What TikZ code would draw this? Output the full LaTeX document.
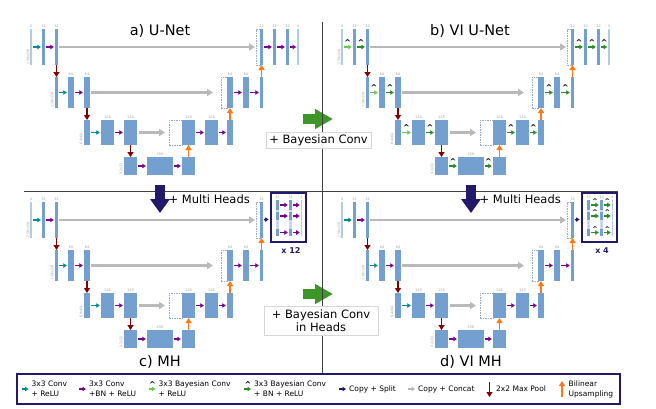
\documentclass[tikz,border=0pt]{standalone}
\usepackage{fontspec}
\setmainfont{DejaVu Sans}
\usetikzlibrary{arrows.meta}

\definecolor{blockblue}{RGB}{116,160,208}
\definecolor{convteal}{RGB}{0,140,140}
\definecolor{convpurple}{RGB}{125,0,145}
\definecolor{bayeslight}{RGB}{110,200,80}
\definecolor{bayesdark}{RGB}{45,140,40}
\definecolor{splitnavy}{RGB}{35,25,105}
\definecolor{skipgrey}{RGB}{185,185,185}
\definecolor{poolred}{RGB}{130,0,0}
\definecolor{uporange}{RGB}{255,120,20}
\definecolor{bayesarrow}{RGB}{60,150,40}
\definecolor{catgrey}{RGB}{150,170,205}
\definecolor{dimgrey}{RGB}{165,165,165}
\definecolor{boxgrey}{RGB}{215,215,215}

\begin{document}
\begin{tikzpicture}[x=1pt, y=-1pt]
    \tikzset{blk/.style = {fill=blockblue, inner sep=0, outer sep=0}}
    \tikzset{thinblk/.style = {fill=blockblue!55, inner sep=0, outer sep=0, minimum width=1.2}}
    \tikzset{strip/.style = {fill=blockblue!35, inner sep=0, outer sep=0, minimum width=3, minimum height=36}}
    \tikzset{catbox/.style = {draw=catgrey, dash pattern=on 1.5pt off 1pt, line width=0.6pt, inner sep=0, outer sep=0}}
    \tikzset{r1/.style = {minimum height=36}}
    \tikzset{r2/.style = {minimum height=31}}
    \tikzset{r3/.style = {minimum height=25}}
    \tikzset{r4/.style = {minimum height=18}}
    \tikzset{dims/.style = {text=dimgrey, font=\fontsize{3.5}{4}\selectfont, inner sep=0.6pt}}
    \tikzset{dimtop/.style = {label={[dims, label distance=0.6pt]above:#1}}}
    \tikzset{dimside/.style = {dims, rotate=90, anchor=west}}
    \tikzset{small/.style = {line width=1.3pt, -{Triangle[length=3.5pt,width=4.5pt]}, shorten <=1.2pt, shorten >=1.2pt}}
    \tikzset{conv/.style = {small, draw=convteal}}
    \tikzset{convbn/.style = {small, draw=convpurple}}
    \tikzset{bconv/.style = {small, draw=bayeslight}}
    \tikzset{bconvbn/.style = {small, draw=bayesdark}}
    \tikzset{hat/.style = {midway, yshift=4.5pt, inner sep=0, font=\bfseries\fontsize{8}{8}\selectfont}}
    \tikzset{skip/.style = {line width=2.8pt, draw=skipgrey, -{Triangle[length=6pt,width=7pt]}}}
    \tikzset{pool/.style = {line width=1.8pt, draw=poolred, -{Triangle[length=5pt,width=6pt]}}}
    \tikzset{upsample/.style = {line width=1.8pt, draw=uporange, -{Triangle[length=5pt,width=6pt]}}}
    \tikzset{split/.style = {line width=1.3pt, draw=splitnavy, -{Triangle[length=3.5pt,width=4.5pt]}, shorten <=1.2pt, shorten >=1.5pt}}
    \tikzset{headbox/.style = {draw=splitnavy, line width=1.8pt, inner sep=0, minimum width=35, minimum height=49}}
    \tikzset{dotcol/.style = {draw=blockblue!60, line width=0.6pt, dash pattern=on 0.6pt off 0.9pt}}
    \tikzset{countlabel/.style = {text=splitnavy, inner sep=0, font=\bfseries\fontsize{8}{8}\selectfont}}
    \tikzset{title/.style = {anchor=base, inner sep=0, font=\fontsize{14.5}{15}\selectfont}}
    \tikzset{sidetext/.style = {anchor=west, inner sep=0, font=\fontsize{11.5}{12}\selectfont}}
    \tikzset{notebox/.style = {draw=boxgrey, fill=white, line width=0.6pt, inner sep=1pt, align=center, font=\fontsize{11.5}{13}\selectfont}}
    \tikzset{divider/.style = {draw=black!75, line width=0.8pt}}
    \tikzset{bigsplit/.style = {line width=10pt, draw=splitnavy, -{Triangle[length=14pt,width=19pt]}}}
    \tikzset{bigbayes/.style = {line width=10pt, draw=bayesarrow, -{Triangle[length=18pt,width=19pt]}}}
    \tikzset{legendbox/.style = {draw=splitnavy, line width=2pt, inner sep=0, minimum width=603, minimum height=30}}
    \tikzset{legtext/.style = {anchor=west, inner sep=0, align=left, font=\fontsize{7.5}{10}\selectfont}}
    \tikzset{legarrow/.style = {shorten <=0pt, shorten >=3pt}}

    \newcommand{\unet}[6]{%
        \begin{scope}[shift={(#2,#3)}]
        % encoder
        \node[thinblk, r1, dimtop=4] (#1in) at (31,47) {};
        \node[blk, r1, minimum width=3, dimtop=32] (#1e1a) at (43.5,47) {};
        \node[blk, r1, minimum width=3, dimtop=32] (#1e1b) at (56.5,47) {};
        \node[blk, r2, minimum width=3] (#1e2a) at (56.5,92.5) {};
        \node[blk, r2, minimum width=6, dimtop=64] (#1e2b) at (71,92.5) {};
        \node[blk, r2, minimum width=6, dimtop=64] (#1e2c) at (87,92.5) {};
        \node[blk, r3, minimum width=6] (#1e3a) at (87,132.5) {};
        \node[blk, r3, minimum width=13, dimtop=128] (#1e3b) at (107.5,132.5) {};
        \node[blk, r3, minimum width=13, dimtop=128] (#1e3c) at (130.5,132.5) {};
        % bottleneck
        \node[blk, r4, minimum width=13] (#1b4a) at (130.5,166) {};
        \node[blk, r4, minimum width=26, dimtop=256] (#1b4b) at (160,166) {};
        \node[blk, r4, minimum width=13] (#1b4c) at (188.5,166) {};
        % decoder
        \node[catbox, r3, minimum width=13] (#1d3cat) at (175.5,132.5) {};
        \node[blk, r3, minimum width=13, dimtop=128] (#1d3a) at (188.5,132.5) {};
        \node[blk, r3, minimum width=13, dimtop=128] (#1d3b) at (211.5,132.5) {};
        \node[blk, r3, minimum width=6] (#1d3c) at (230,132.5) {};
        \node[catbox, r2, minimum width=6] (#1d2cat) at (224,92.5) {};
        \node[blk, r2, minimum width=6, dimtop=64] (#1d2a) at (230,92.5) {};
        \node[blk, r2, minimum width=6, dimtop=64] (#1d2b) at (246,92.5) {};
        \node[blk, r2, minimum width=3] (#1d2c) at (261.5,92.5) {};
        \node[catbox, r1, minimum width=4] (#1d1cat) at (258,47) {};
        \node[blk, r1, minimum width=3, dimtop=32] (#1d1a) at (261.5,47) {};
        % resolutions
        \node[dimside] (#1s1) at (28,65) {256x256};
        \node[dimside] (#1s2) at (52,108) {128x128};
        \node[dimside] (#1s3) at (81,145) {64x64};
        \node[dimside] (#1s4) at (121,175) {32x32};
        % convolutions
        \draw[#4] (#1in) -- node[hat]{#6} (#1e1a);
        \draw[#5] (#1e1a) -- node[hat]{#6} (#1e1b);
        \draw[#4] (#1e2a) -- node[hat]{#6} (#1e2b);
        \draw[#5] (#1e2b) -- node[hat]{#6} (#1e2c);
        \draw[#4] (#1e3a) -- node[hat]{#6} (#1e3b);
        \draw[#5] (#1e3b) -- node[hat]{#6} (#1e3c);
        \draw[#5] (#1b4a) -- node[hat]{#6} (#1b4b);
        \draw[#5] (#1b4b) -- node[hat]{#6} (#1b4c);
        \draw[#5] (#1d3a) -- node[hat]{#6} (#1d3b);
        \draw[#5] (#1d3b) -- node[hat]{#6} (#1d3c);
        \draw[#5] (#1d2a) -- node[hat]{#6} (#1d2b);
        \draw[#5] (#1d2b) -- node[hat]{#6} (#1d2c);
        % copy + concat
        \draw[skip, shorten <=1pt, shorten >=1pt] (#1e1b) -- (#1d1cat);
        \draw[skip, shorten <=1pt, shorten >=8pt] (#1e2c) -- (#1d2cat);
        \draw[skip, shorten <=2pt, shorten >=4pt] (#1e3c) -- (#1d3cat);
        % pooling and upsampling
        \draw[pool] (#1e1b) -- (#1e2a);
        \draw[pool] (#1e2c) -- (#1e3a);
        \draw[pool] (#1e3c) -- (#1b4a);
        \draw[upsample] (#1b4c) -- (#1d3a);
        \draw[upsample] (#1d3c) -- (#1d2a);
        \draw[upsample] (#1d2c) -- (#1d1a);
        \end{scope}}

    \newcommand{\plaintail}[5]{%
        \begin{scope}[shift={(#2,#3)}]
        \node[blk, r1, minimum width=3, dimtop=32] (#1d1b) at (274.5,47) {};
        \node[blk, r1, minimum width=3, dimtop=32] (#1d1c) at (287.5,47) {};
        \node[thinblk, r1, dimtop=4] (#1out) at (298,47) {};
        \draw[#4] (#1d1a) -- node[hat]{#5} (#1d1b);
        \draw[#4] (#1d1b) -- node[hat]{#5} (#1d1c);
        \draw[#4] (#1d1c) -- node[hat]{#5} (#1out);
        \end{scope}}

    \newcommand{\headtail}[6]{%
        \begin{scope}[shift={(#2,#3)}]
        \node[headbox] (#1heads) at (288.5,44.5) {};
        \draw[split] (#1d1a) -- (#1heads);
        \node[strip, dimtop=32] (#1hsa) at (277.5,45) {};
        \node[strip, dimtop=32] (#1hsb) at (290.5,45) {};
        \node[strip, minimum width=1.2, dimtop=4] (#1hsc) at (301.5,45) {};
        \foreach \hrow/\hy/\hht in {1/32/10, 2/43/8, 3/59.5/7} {
            \node[blk, minimum width=3, minimum height=\hht] (#1ha\hrow) at (277.5,\hy) {};
            \node[blk, minimum width=3, minimum height=\hht] (#1hb\hrow) at (290.5,\hy) {};
            \node[thinblk, minimum height=\hht] (#1hc\hrow) at (301.5,\hy) {};
            \draw[#4] (#1ha\hrow) -- node[hat, yshift=-1pt, font=\bfseries\fontsize{6.5}{6.5}\selectfont]{#5} (#1hb\hrow);
            \draw[#4] (#1hb\hrow) -- node[hat, yshift=-1pt, font=\bfseries\fontsize{6.5}{6.5}\selectfont]{#5} (#1hc\hrow);
        }
        \draw[dotcol] (277.5,48.5) -- (277.5,55);
        \draw[dotcol] (290.5,48.5) -- (290.5,55);
        \draw[dotcol] (301.5,48.5) -- (301.5,55);
        \node[countlabel] (#1count) at (291,77.5) {#6};
        \end{scope}}

    \useasboundingbox (0,0) rectangle (656,408);

    % moves between the panels
    \coordinate (bayesfromT) at (303,119);
    \coordinate (bayestoT) at (333,119);
    \coordinate (bayesfromB) at (303,294);
    \coordinate (bayestoB) at (333,294);
    \draw[bigbayes] (bayesfromT) -- (bayestoT);
    \draw[bigbayes] (bayesfromB) -- (bayestoB);
    \draw[divider] (322,22) -- (322,373);
    \draw[divider] (24,191) -- (618,191);
    \node[notebox, minimum width=105, minimum height=16] (bayesnote) at (318.5,140) {+ Bayesian Conv};
    \node[notebox, minimum width=114, minimum height=29] (headsnote) at (321,320.5) {+ Bayesian Conv\\in Heads};
    \coordinate (headsfromL) at (160,185);
    \coordinate (headstoL) at (160,213);
    \coordinate (headsfromR) at (471,185);
    \coordinate (headstoR) at (471,213);
    \draw[bigsplit] (headsfromL) -- (headstoL);
    \draw[bigsplit] (headsfromR) -- (headstoR);
    \node[sidetext] (headsnoteL) at (168.5,199) {+ Multi Heads};
    \node[sidetext] (headsnoteR) at (479.5,199) {+ Multi Heads};

    % the four networks
    \unet{a}{0}{0}{conv}{convbn}{}
    \plaintail{a}{0}{0}{convbn}{}
    \unet{b}{311}{0}{bconv}{bconvbn}{\textasciicircum}
    \plaintail{b}{311}{0}{bconvbn}{\textasciicircum}
    \unet{c}{0}{173}{conv}{convbn}{}
    \headtail{c}{0}{173}{convbn}{}{x 12}
    \unet{d}{311}{173}{conv}{convbn}{}
    \headtail{d}{311}{173}{bconvbn}{\textasciicircum}{x 4}

    \node[title] (titlea) at (160,35) {a) U-Net};
    \node[title] (titleb) at (470,35) {b) VI U-Net};
    \node[title] (titlec) at (160,366) {c) MH};
    \node[title] (titled) at (471,366) {d) VI MH};

    % legend
    \node[legendbox] (legend) at (318.5,389) {};
    \node[legtext] (lgconvt) at (31.5,389) {3x3 Conv\\+ ReLU};
    \node[legtext] (lgconvbnt) at (89,389) {3x3 Conv\\+BN + ReLU};
    \node[legtext] (lgbconvt) at (158.5,389) {3x3 Bayesian Conv\\+ ReLU};
    \node[legtext] (lgbconvbnt) at (254,389) {3x3 Bayesian Conv\\+ BN + ReLU};
    \node[legtext] (lgsplitt) at (349,389) {Copy + Split};
    \node[legtext] (lgskipt) at (418,389) {Copy + Concat};
    \node[legtext] (lgpoolt) at (496,389) {2x2 Max Pool};
    \node[legtext] (lgupt) at (568.5,389) {Bilinear\\Upsampling};
    \coordinate (lgconv) at (21.5,389);
    \coordinate (lgconvbn) at (79,389);
    \coordinate (lgbconv) at (148.5,389);
    \coordinate (lgbconvbn) at (244,389);
    \coordinate (lgsplit) at (339,389);
    \coordinate (lgskip) at (408,389);
    \coordinate (lgpoolA) at (489.5,382);
    \coordinate (lgpoolB) at (489.5,397);
    \coordinate (lgupA) at (562,397);
    \coordinate (lgupB) at (562,381);
    \draw[conv, legarrow] (lgconv) -- (lgconvt.west);
    \draw[convbn, legarrow] (lgconvbn) -- (lgconvbnt.west);
    \draw[bconv, legarrow] (lgbconv) -- node[hat, xshift=-1pt]{\textasciicircum} (lgbconvt.west);
    \draw[bconvbn, legarrow] (lgbconvbn) -- node[hat, xshift=-1pt]{\textasciicircum} (lgbconvbnt.west);
    \draw[split, legarrow] (lgsplit) -- (lgsplitt.west);
    \draw[small, draw=skipgrey, legarrow] (lgskip) -- (lgskipt.west);
    \draw[pool, line width=1.5pt] (lgpoolA) -- (lgpoolB);
    \draw[upsample, line width=1.5pt] (lgupA) -- (lgupB);
\end{tikzpicture}
\end{document}
